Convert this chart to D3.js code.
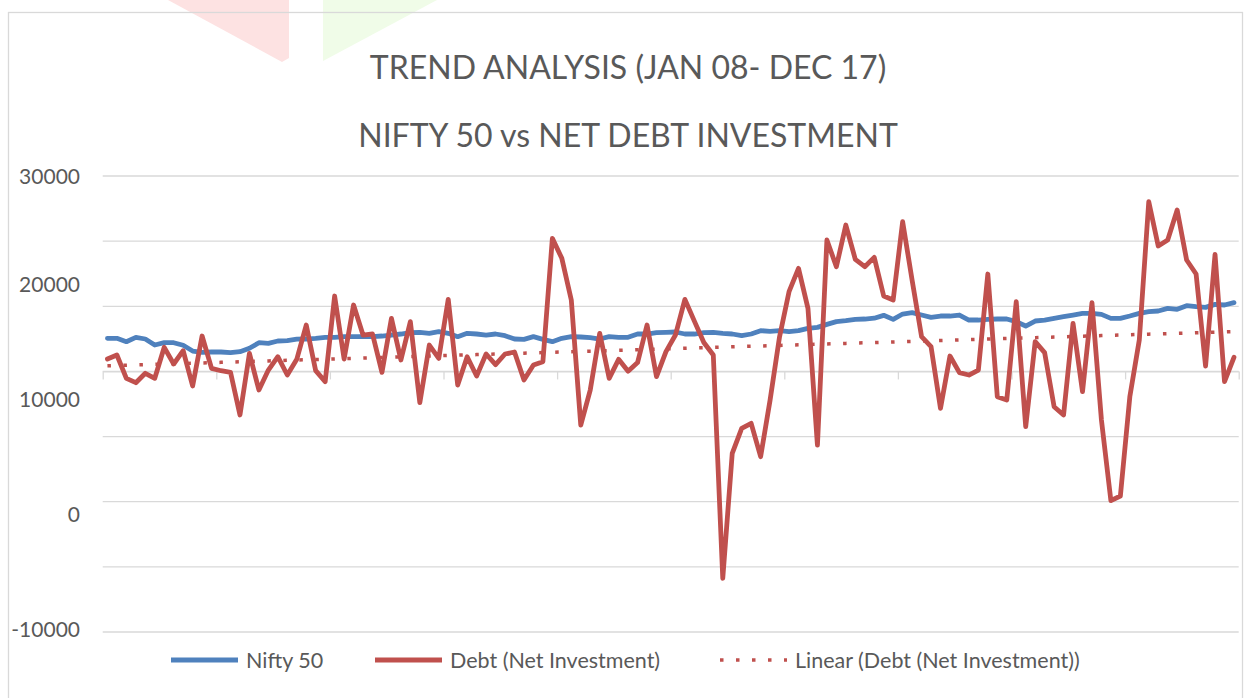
<!DOCTYPE html>
<html lang="en">
<head>
<meta charset="utf-8">
<title>Trend Analysis - Nifty 50 vs Net Debt Investment</title>
<style>
  body { margin: 0; background: #fff; }
  svg { display: block; font-family: Lato, "Open Sans", sans-serif; }
</style>
</head>
<body>
<svg id="chart" width="1244" height="698"></svg>
<script src="https://d3js.org/d3.v7.min.js"></script>
<script>
// ---- data ----
const years = ["08", "09", "10", "11", "12", "13", "14", "15", "16", "17"];
const monthNames = ["Jan", "Feb", "Mar", "Apr", "May", "Jun", "Jul", "Aug", "Sep", "Oct", "Nov", "Dec"];

const nifty = [
  15301, 15301, 15010, 15388, 15244, 14723, 14923, 14923, 14697, 14200, 14090, 14115,
  14115, 14055, 14143, 14437, 14923, 14870, 15070, 15099, 15230, 15243, 15301, 15389,
  15389, 15446, 15446, 15446, 15446, 15504, 15591, 15678, 15793, 15822, 15736, 15880,
  15736, 15446, 15736, 15678, 15591, 15678, 15533, 15243, 15215, 15446, 15215, 15012,
  15301, 15446, 15420, 15359, 15243, 15446, 15389, 15389, 15678, 15678, 15793, 15822,
  15851, 15678, 15678, 15793, 15822, 15736, 15678, 15533, 15678, 15967, 15909, 15967,
  15880, 15967, 16170, 16257, 16517, 16749, 16836, 16951, 16980, 17050, 17300, 16950,
  17414, 17530, 17327, 17125, 17241, 17241, 17327, 16893, 16893, 16951, 16980, 16980,
  16749, 16372, 16807, 16893, 17038, 17183, 17327, 17472, 17472, 17385, 17038, 17038,
  17241, 17472, 17617, 17675, 17907, 17820, 18138, 18051, 17993, 18254, 18196, 18399
];

const debt = [
  13507, 13855, 11831, 11450, 12266, 11831, 14523, 13073, 14232, 11163, 15505, 12699,
  12490, 12352, 8644, 14000, 10815, 12550, 13707, 12117, 13478, 16459, 12494, 11538,
  18978, 13507, 18196, 15591, 15678, 12349, 17038, 13420, 16749, 9715, 14722, 13565,
  18688, 11249, 13709, 12030, 13941, 13015, 13941, 14115, 11683, 12986, 13275, 23985,
  22249, 18630, 7775, 10815, 15736, 11828, 13478, 12450, 13200, 16459, 11972, 14143,
  15591, 18688, 16800, 14940, 13854, -5540, 5315, 7486, 7920, 5025, 9946, 15446,
  19354, 21380, 17907, 6038, 23841, 21525, 25143, 22162, 21525, 22335, 18978, 18631,
  25433, 20367, 15446, 14578, 9222, 13767, 12320, 12117, 12551, 20888, 10236, 9946,
  18486, 7630, 15012, 14057, 9367, 8644, 16604, 10670, 18399, 8209, 1204, 1609,
  10236, 15157, 27170, 23320, 23841, 26446, 22104, 20888, 12899, 22596, 11538, 13651
];

const yTickValues = [-10000, 0, 10000, 20000, 30000];
const seriesNames = ["Nifty 50", "Debt (Net Investment)", "Linear (Debt (Net Investment))"];
const titleLines = ["TREND ANALYSIS (JAN 08- DEC 17)", "NIFTY 50 vs NET DEBT INVESTMENT"];

const categories = years.flatMap(yr => monthNames.map(m => m + "-" + yr));

// ---- layout ----
const plot = { left: 102.7, right: 1238.7, top: 176, bottom: 632 };
const blue = "#4f81bd", red = "#c0504d", grid = "#d9d9d9", textCol = "#595959";

const svg = d3.select("#chart");

// faint background decoration at the top
svg.append("polygon")
  .attr("points", "168,0 289,0 289,58 282,62")
  .attr("fill", "#fde2e2");
svg.append("polygon")
  .attr("points", "323,0 437,0 323,61")
  .attr("fill", "#f0fce8");

// chart area border
svg.append("rect")
  .attr("x", 8.5).attr("y", 12.5)
  .attr("width", 1234).attr("height", 720)
  .attr("fill", "none")
  .attr("stroke", grid)
  .attr("stroke-width", 1.3);

// scales
const xi = d3.scaleLinear().domain([0, categories.length]).range([plot.left, plot.right]);
const cx = i => xi(i + 0.5);
const yMin = -10200, yMax = 29400;
const y = d3.scaleLinear().domain([yMin, yMax]).range([plot.bottom, plot.top]);

// gridlines: 7 equal intervals
const gridVals = d3.range(8).map(k => yMin + k * (yMax - yMin) / 7);
svg.append("g")
  .selectAll("line")
  .data(gridVals)
  .join("line")
  .attr("x1", plot.left).attr("x2", plot.right)
  .attr("y1", d => y(d)).attr("y2", d => y(d))
  .attr("stroke", grid)
  .attr("stroke-width", 1.3);

// category axis crosses at the 5th gridline, year ticks between months
const xAxis = d3.axisBottom(xi)
  .tickValues(d3.range(0, categories.length + 1, 12))
  .tickSize(8)
  .tickSizeOuter(0)
  .tickFormat("");
svg.append("g")
  .attr("transform", `translate(0,${y(gridVals[4])})`)
  .call(xAxis)
  .call(g => g.selectAll("path, line").attr("stroke", grid).attr("stroke-width", 1.3));

// value labels
svg.append("g")
  .selectAll("text")
  .data(yTickValues)
  .join("text")
  .attr("x", 80)
  .attr("y", d => y(Math.min(d, yMax)))
  .attr("dy", "0.36em")
  .attr("text-anchor", "end")
  .attr("fill", textCol)
  .style("font-size", "21px")
  .text(d => d);

// title
svg.append("g")
  .selectAll("text")
  .data(titleLines)
  .join("text")
  .attr("x", 628)
  .attr("y", (d, i) => 79 + i * 68)
  .attr("text-anchor", "middle")
  .attr("fill", textCol)
  .style("font-size", "32px")
  .text(d => d);

// series
const line = d3.line()
  .x((d, i) => cx(i))
  .y(d => y(d));

svg.append("path")
  .datum(nifty)
  .attr("d", line)
  .attr("fill", "none")
  .attr("stroke", blue)
  .attr("stroke-width", 4.8)
  .attr("stroke-linejoin", "round")
  .attr("stroke-linecap", "round");

svg.append("path")
  .datum(debt)
  .attr("d", line)
  .attr("fill", "none")
  .attr("stroke", red)
  .attr("stroke-width", 4.8)
  .attr("stroke-linejoin", "round")
  .attr("stroke-linecap", "round");

// linear trendline (least squares on category index 1..n)
const n = debt.length;
const xs = d3.range(1, n + 1);
const mx = d3.mean(xs), my = d3.mean(debt);
const slope = d3.sum(xs, (xv, i) => (xv - mx) * (debt[i] - my)) / d3.sum(xs, xv => (xv - mx) ** 2);
const icpt = my - slope * mx;
const trend = xs.map(xv => icpt + slope * xv);

svg.append("path")
  .datum(trend)
  .attr("d", line)
  .attr("fill", "none")
  .attr("stroke", red)
  .attr("stroke-width", 3.5)
  .attr("stroke-dasharray", "3.5,12.5");

// legend
const legendY = 660;
const legendItems = [
  { name: seriesNames[0], x: 171, color: blue, dash: null, w: 5 },
  { name: seriesNames[1], x: 375, color: red, dash: null, w: 5 },
  { name: seriesNames[2], x: 720, color: red, dash: "3.5,12.5", w: 3.5 }
];
const lg = svg.append("g")
  .selectAll("g")
  .data(legendItems)
  .join("g")
  .attr("transform", d => `translate(${d.x},${legendY})`);
lg.append("line")
  .attr("x1", 0).attr("x2", 67)
  .attr("stroke", d => d.color)
  .attr("stroke-width", d => d.w)
  .attr("stroke-dasharray", d => d.dash);
lg.append("text")
  .attr("x", 75)
  .attr("dy", "0.36em")
  .attr("fill", textCol)
  .style("font-size", "21.5px")
  .text(d => d.name);
</script>
</body>
</html>
